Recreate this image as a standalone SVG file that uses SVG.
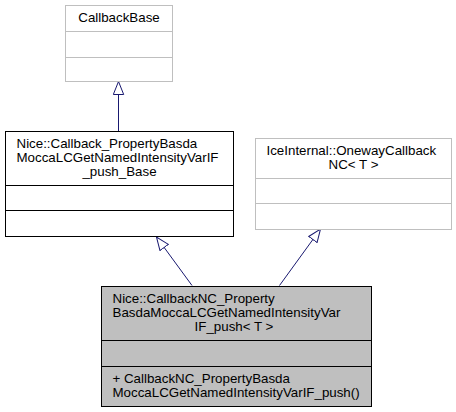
<svg xmlns="http://www.w3.org/2000/svg" width="456" height="412" viewBox="0 0 456 412">
<defs>
<style>
text { font-family: "Liberation Sans", Arial, Helvetica, sans-serif; font-size: 13.33px; fill: #000; }
.s { text-anchor: start; }
.m { text-anchor: middle; }
.grey { fill: #ffffff; stroke: #bfbfbf; stroke-width: 1; }
.black { fill: #ffffff; stroke: #000000; stroke-width: 1; }
.cur { fill: #bfbfbf; stroke: #000000; stroke-width: 1; }
.gl { stroke: #bfbfbf; stroke-width: 1; }
.bl { stroke: #000000; stroke-width: 1; }
.edge { fill: none; stroke: #191970; stroke-width: 1; }
</style>
<marker id="inh" viewBox="0 0 14 12" refX="13.5" refY="6" markerWidth="14" markerHeight="12" markerUnits="userSpaceOnUse" orient="auto">
<path d="M0.5,0.8 L13.5,6 L0.5,11.2 Z" fill="#ffffff" stroke="#191970" stroke-width="1"/>
</marker>
</defs>

<g id="connectors">
<path class="edge" d="M118.5,131 L118.5,81.5" marker-end="url(#inh)"/>
<path class="edge" d="M192,285.5 L156.5,237" marker-end="url(#inh)"/>
<path class="edge" d="M279.5,285.5 L320.5,229" marker-end="url(#inh)"/>
</g>

<g id="node-CallbackBase">
<rect class="grey" x="65.5" y="5.5" width="107" height="76"/>
<line class="gl" x1="65.5" y1="31.5" x2="172.5" y2="31.5"/>
<line class="gl" x1="65.5" y1="57.5" x2="172.5" y2="57.5"/>
<text class="m" x="119" y="22">CallbackBase</text>
</g>

<g id="node-CallbackBase2">
<rect class="black" x="5.5" y="131.5" width="228" height="105"/>
<line class="bl" x1="5.5" y1="185.5" x2="233.5" y2="185.5"/>
<line class="bl" x1="5.5" y1="210.5" x2="233.5" y2="210.5"/>
<text class="s" x="16.5" y="148">Nice::Callback_PropertyBasda</text>
<text class="s" x="16.5" y="162">MoccaLCGetNamedIntensityVarIF</text>
<text class="m" x="119.5" y="176">_push_Base</text>
</g>

<g id="node-Oneway">
<rect class="grey" x="255.5" y="138.5" width="196" height="91"/>
<line class="gl" x1="255.5" y1="178.5" x2="451.5" y2="178.5"/>
<line class="gl" x1="255.5" y1="203.5" x2="451.5" y2="203.5"/>
<text class="s" x="266.5" y="155">IceInternal::OnewayCallback</text>
<text class="m" x="353.5" y="169">NC&lt; T &gt;</text>
</g>

<g id="node-CallbackNC">
<rect class="cur" x="101.5" y="286.5" width="270" height="120"/>
<line class="bl" x1="101.5" y1="340.5" x2="371.5" y2="340.5"/>
<line class="bl" x1="101.5" y1="366.5" x2="371.5" y2="366.5"/>
<text class="s" x="112.5" y="303">Nice::CallbackNC_Property</text>
<text class="s" x="112.5" y="317">BasdaMoccaLCGetNamedIntensityVar</text>
<text class="m" x="234" y="331">IF_push&lt; T &gt;</text>
<text class="s" x="112.5" y="383">+ CallbackNC_PropertyBasda</text>
<text class="s" x="112.5" y="397">MoccaLCGetNamedIntensityVarIF_push()</text>
</g>
</svg>
